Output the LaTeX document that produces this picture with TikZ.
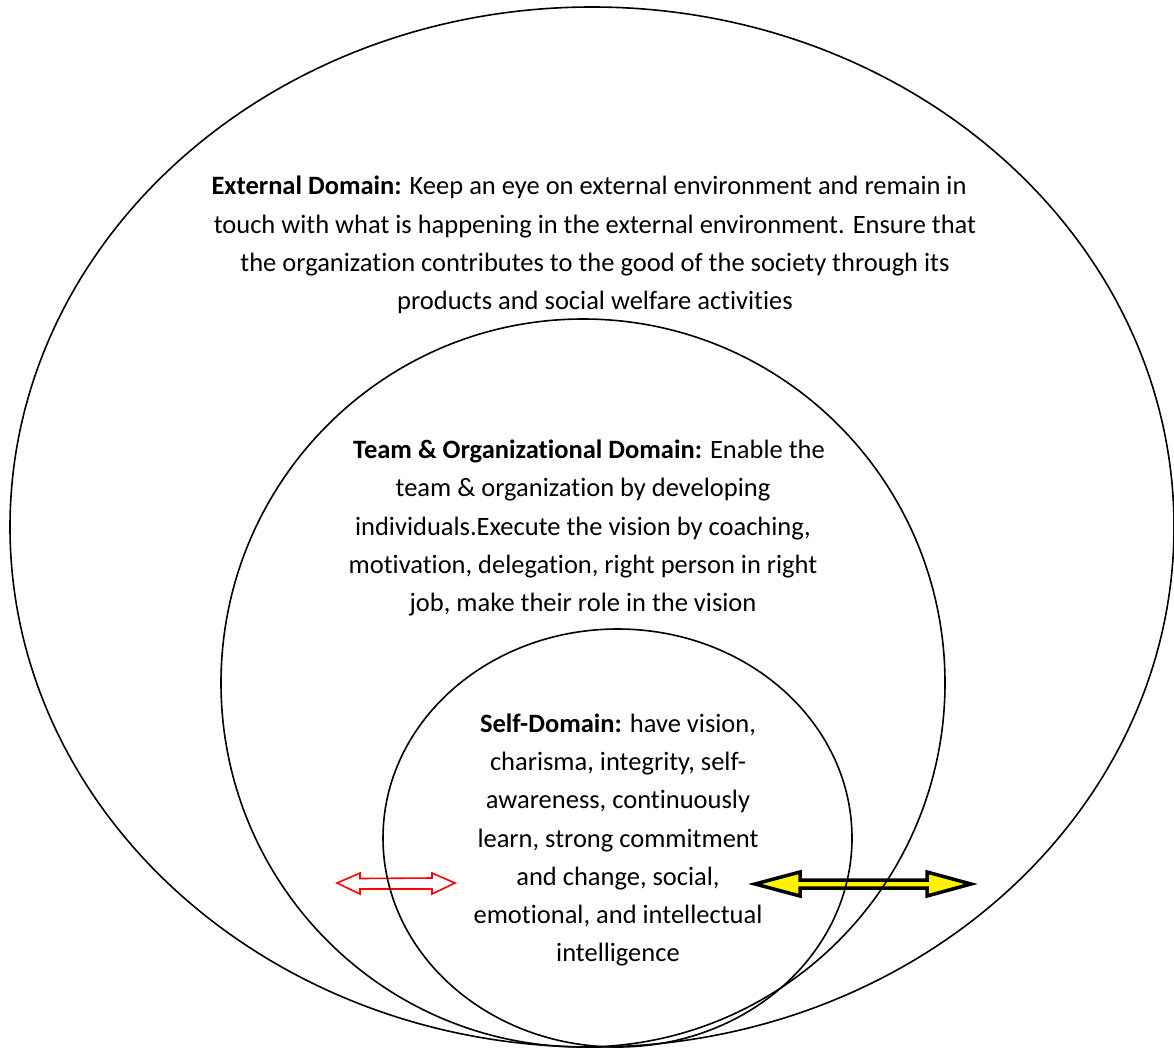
\documentclass[tikz,border=0pt]{standalone}
\usepackage{fontspec}
\setmainfont[Ligatures=NoCommon]{Carlito}
\begin{document}
\begin{tikzpicture}[x=1pt,y=-1pt,
  ring/.style={draw=black,line width=1.6pt},
  domaintext/.style={align=center,inner sep=0pt,font=\fontsize{26.5}{38.2}\selectfont},
  hollowarrow/.style={draw=red,fill=white,line width=1.6pt,line join=miter},
  boldarrow/.style={draw=black,fill=yellow,line width=3.5pt,line join=miter}]
\useasboundingbox (0,0) rectangle (1174,1049);
\clip (0,0) rectangle (1174,1049);

% double arrows (drawn first, the rings pass over them)
\coordinate (ra) at (337,883);
\coordinate (rb) at (455,883);
\draw[hollowarrow] (ra) -- ++(23,-10) -- ++(0,5.5) -- (432,878) -- ++(0,-5)
  -- (rb) -- (432,894) -- ++(0,-5) -- (360,889) -- ++(0,5) -- cycle;
\coordinate (ya) at (755,884);
\coordinate (yb) at (971,884);
\draw[boldarrow] (ya) -- (800,872) -- (800,880) -- (927,880) -- (927,872)
  -- (yb) -- (927,896) -- (927,888) -- (800,888) -- (800,896) -- cycle;

% nested domains
\coordinate (outerc) at (592,527);
\coordinate (midc) at (583,683);
\coordinate (innerc) at (617.5,838);
\draw[ring] (outerc) ellipse [x radius=582,y radius=520];
\draw[ring] (midc) ellipse [x radius=362,y radius=364];
\draw[ring] (innerc) ellipse [x radius=234.5,y radius=209];

\node[domaintext] (ext) at (595,245) {\textbf{External Domain:} Keep an eye on external environment and remain in\hspace*{12pt}\\
touch with what is happening in the external environment. Ensure that\\
the organization contributes to the good of the society through its\\
products and social welfare activities};
\node[domaintext] (team) at (583,528) {\hspace*{12pt}\textbf{Team \& Organizational Domain:} Enable the\\
team \& organization by developing\\
individuals.Execute the vision by coaching,\\
motivation, delegation, right person in right\\
job, make their role in the vision};
\node[domaintext] (self) at (618,840) {\textbf{Self-Domain:} have vision,\\
charisma, integrity, self-\\
awareness, continuously\\
learn, strong commitment\\
and change, social,\\
emotional, and intellectual\\
intelligence};
\end{tikzpicture}
\end{document}
